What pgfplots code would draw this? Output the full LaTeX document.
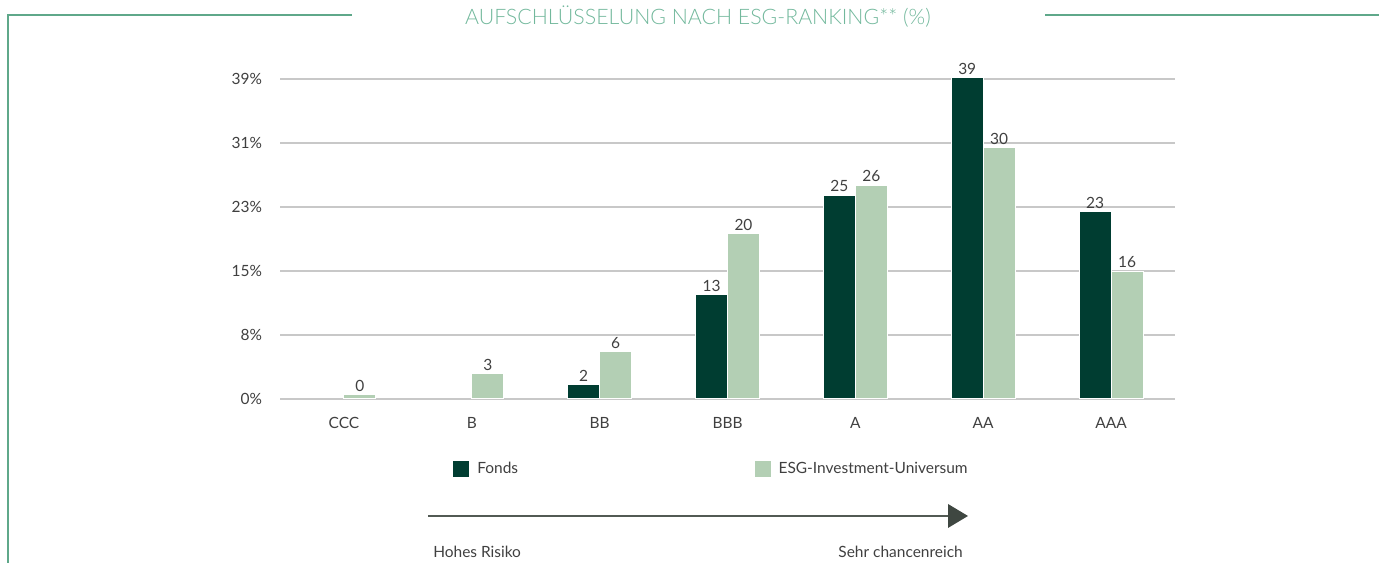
\documentclass[border=0pt]{standalone}
\usepackage{fontspec}
\setmainfont{Lato}
\IfFontExistsTF{Lato Light}{\newfontfamily\lightfont{Lato Light}}{\newfontfamily\lightfont{Lato}}
\usepackage{pgfplots}
\pgfplotsset{compat=1.18}
\definecolor{fonds}{HTML}{003D31}
\definecolor{univ}{HTML}{B3CFB4}
\definecolor{framec}{HTML}{5FA88A}
\definecolor{titlec}{HTML}{72B89C}
\definecolor{txt}{HTML}{404040}
\definecolor{gridc}{HTML}{C8C8C8}
\definecolor{arrowc}{HTML}{3F4741}
\begin{document}
\begin{tikzpicture}[x=0.75pt,y=0.75pt]
\path[use as bounding box] (0,0) rectangle (1379,563);
\draw[framec, line width=1.6pt] (8,0) -- (8,548) -- (352,548);
\draw[framec, line width=1.6pt] (1045,548) -- (1379,548);
\node[text=titlec, font=\lightfont\fontsize{16}{19}\selectfont] at (698,546) {AUFSCHLÜSSELUNG NACH ESG-RANKING** (\%)};
\begin{axis}[
  at={(210pt,123pt)}, anchor=south west,
  scale only axis, width=671.25pt, height=247.7pt,
  xmin=-0.5, xmax=6.5, ymin=0, ymax=40,
  xtick={0,...,6}, xticklabels={CCC,B,BB,BBB,A,AA,AAA},
  ytick={0,7.75,15.5,23.25,31,38.75},
  yticklabels={0\%,8\%,15\%,23\%,31\%,39\%},
  ymajorgrids, grid style={gridc, line width=1.8pt},
  axis line style={draw=none}, major tick length=0pt,
  tick label style={font=\fontsize{11.6}{13}\selectfont, text=txt},
  yticklabel style={xshift=-10pt},
  xticklabel style={yshift=-10pt},
  clip=false,
  ybar, bar width=0.25,
  nodes near coords, point meta=explicit symbolic,
  every node near coord/.append style={font=\fontsize{11.6}{13}\selectfont, text=txt, inner sep=2pt},
  legend columns=2,
  legend style={at={(0.1933,-0.212)}, anchor=west, draw=none, inner sep=0pt,
    font=\fontsize{11.6}{13}\selectfont, text=txt,
    /tikz/every even column/.append style={column sep=0pt}},
  legend image code/.code={\fill[#1,draw=none] (0pt,-6pt) rectangle (12pt,6pt);},
]
\addplot[fill=fonds, draw=white, line width=0.75pt, bar shift=-0.125] coordinates {
  (2,1.7) [2] (3,12.6) [13] (4,24.7) [25] (5,38.9) [39] (6,22.7) [23]};
\addlegendentry{\makebox[210pt][l]{\hspace{4pt}Fonds}}
\addplot[fill=univ, draw=white, line width=0.75pt, bar shift=0.125] coordinates {
  (0,0.5) [0] (1,3.1) [3] (2,5.7) [6] (3,20.0) [20] (4,25.9) [26] (5,30.4) [30] (6,15.5) [16]};
\addlegendentry{\hspace{4pt}ESG-Investment-Universum}
\end{axis}
\draw[arrowc!90, line width=1.4pt] (428,47) -- (950,47);
\fill[arrowc] (948,59) -- (968,47) -- (948,35) -- cycle;
\node[anchor=west, text=txt, font=\fontsize{11.6}{13}\selectfont, inner sep=0pt] at (433,11) {Hohes Risiko};
\node[anchor=east, text=txt, font=\fontsize{11.6}{13}\selectfont, inner sep=0pt] at (963,11) {Sehr chancenreich};
\end{tikzpicture}
\end{document}
